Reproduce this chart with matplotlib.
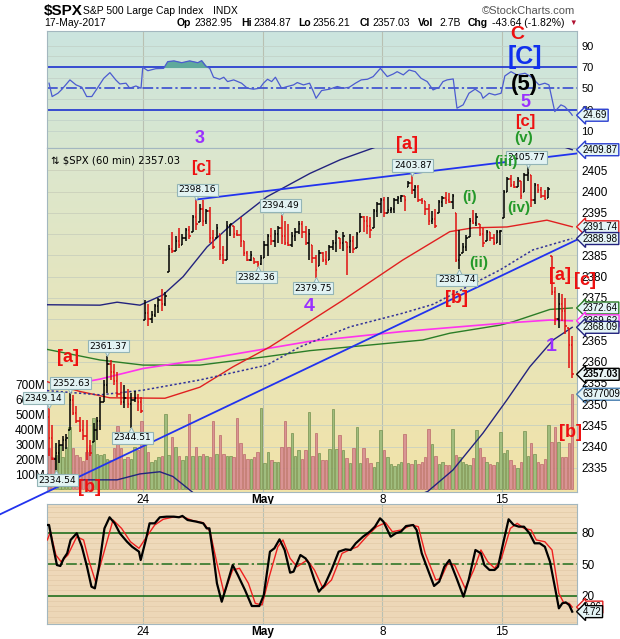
import numpy as np
import matplotlib
matplotlib.use("Agg")
import matplotlib.pyplot as plt
import matplotlib.transforms as mtransforms
from matplotlib.collections import LineCollection

# $SPX 60 min bars, 18-Apr-2017 .. 17-May-2017, 7 bars a session
bar_high = [
    2349.14, 2345.0, 2340.8, 2341.6, 2342.5, 2343.0, 2352.63,
    2352.2, 2349.5, 2347.0, 2346.3, 2346.3, 2341.6, 2345.5,
    2347.0, 2351.8, 2355.7, 2361.37, 2360.4, 2359.5, 2357.5,
    2355.2, 2354.4, 2353.5, 2352.6, 2353.0, 2352.5, 2351.8,
    2374.5, 2373.5, 2372.0, 2373.5, 2375.0, 2377.0, 2376.5,
    2387.5, 2390.6, 2389.5, 2391.4, 2390.0, 2391.5, 2392.0,
    2394.5, 2398.16, 2397.2, 2398.0, 2396.0, 2396.4, 2391.0,
    2392.3, 2390.0, 2387.3, 2393.0, 2392.5, 2392.0, 2391.0,
    2394.0, 2388.5, 2386.0, 2386.0, 2384.5, 2383.6, 2385.0,
    2388.3, 2390.0, 2391.5, 2391.0, 2392.0, 2394.49, 2393.0,
    2392.3, 2390.5, 2391.5, 2393.0, 2393.0, 2392.0, 2391.2,
    2387.5, 2385.1, 2386.3, 2385.8, 2386.0, 2387.5, 2388.6,
    2391.0, 2389.0, 2390.5, 2388.2, 2390.0, 2389.5, 2390.5,
    2395.0, 2394.2, 2394.2, 2394.0, 2396.0, 2397.5, 2398.5,
    2398.8, 2398.8, 2396.5, 2398.5, 2399.0, 2399.2, 2399.0,
    2402.4, 2403.87, 2401.5, 2401.5, 2398.5, 2397.8, 2397.0,
    2395.5, 2396.0, 2398.0, 2399.0, 2400.0, 2399.6, 2399.5,
    2395.0, 2391.0, 2387.9, 2389.8, 2393.8, 2395.8, 2395.0,
    2392.5, 2391.5, 2391.0, 2390.5, 2390.0, 2391.0, 2391.0,
    2400.4, 2403.5, 2403.9, 2402.4, 2403.5, 2402.4, 2404.4,
    2405.77, 2403.9, 2402.0, 2401.7, 2401.0, 2400.4, 2401.0,
    2384.87, 2377.6, 2376.2, 2376.0, 2375.0, 2368.0, 2366.0,
]
bar_low = [
    2337.7, 2336.8, 2334.54, 2336.1, 2339.0, 2339.5, 2343.9,
    2347.5, 2345.5, 2343.5, 2341.6, 2336.9, 2337.7, 2341.0,
    2341.6, 2343.9, 2350.5, 2352.6, 2355.7, 2354.5, 2351.8,
    2349.7, 2349.0, 2349.0, 2344.51, 2350.5, 2348.5, 2347.9,
    2369.8, 2368.5, 2369.0, 2370.5, 2371.5, 2372.0, 2373.0,
    2381.2, 2385.5, 2386.0, 2386.8, 2387.5, 2388.5, 2388.8,
    2390.5, 2391.0, 2392.8, 2392.0, 2392.5, 2388.0, 2386.5,
    2389.0, 2384.0, 2383.0, 2384.0, 2389.5, 2389.0, 2389.5,
    2387.0, 2384.8, 2383.6, 2383.6, 2383.0, 2382.36, 2382.8,
    2384.5, 2384.8, 2387.5, 2387.0, 2388.0, 2387.7, 2387.5,
    2387.3, 2387.0, 2388.5, 2390.0, 2389.0, 2387.5, 2384.0,
    2383.2, 2379.75, 2382.4, 2383.5, 2382.8, 2384.0, 2386.3,
    2385.9, 2386.5, 2386.0, 2380.4, 2385.5, 2385.5, 2386.7,
    2390.6, 2390.6, 2390.0, 2389.0, 2391.5, 2394.0, 2395.0,
    2394.1, 2395.0, 2395.0, 2395.0, 2397.0, 2397.6, 2395.5,
    2401.0, 2399.5, 2398.5, 2397.5, 2397.0, 2394.5, 2392.2,
    2392.5, 2391.5, 2395.0, 2396.5, 2397.0, 2397.3, 2396.0,
    2383.5, 2381.74, 2385.5, 2386.0, 2389.4, 2392.4, 2392.0,
    2389.5, 2387.0, 2388.5, 2388.5, 2387.5, 2388.0, 2387.5,
    2393.8, 2400.0, 2401.0, 2400.8, 2401.0, 2398.2, 2400.0,
    2402.4, 2396.5, 2397.0, 2399.8, 2398.5, 2398.0, 2398.5,
    2375.7, 2368.6, 2368.0, 2369.5, 2366.5, 2358.5, 2356.21,
]
bar_close = [
    2342.0, 2337.0, 2338.5, 2340.5, 2341.5, 2342.0, 2351.0,
    2348.0, 2346.0, 2344.0, 2342.5, 2339.0, 2338.5, 2344.0,
    2346.0, 2350.5, 2354.5, 2359.5, 2357.5, 2355.5, 2352.5,
    2350.5, 2351.5, 2350.0, 2351.0, 2351.5, 2350.5, 2348.5,
    2371.5, 2370.0, 2371.0, 2373.0, 2374.5, 2373.5, 2375.5,
    2386.5, 2386.0, 2388.5, 2387.5, 2389.0, 2391.0, 2389.5,
    2394.0, 2392.5, 2396.0, 2393.0, 2395.5, 2389.0, 2387.0,
    2391.5, 2385.0, 2384.0, 2392.0, 2392.3, 2390.0, 2389.8,
    2388.5, 2385.5, 2384.0, 2385.0, 2383.5, 2383.0, 2384.5,
    2387.5, 2389.5, 2388.5, 2390.0, 2391.5, 2389.5, 2388.0,
    2387.5, 2389.5, 2390.5, 2392.5, 2390.5, 2388.0, 2390.0,
    2384.5, 2381.5, 2385.5, 2384.0, 2383.5, 2387.0, 2388.0,
    2390.5, 2388.0, 2389.5, 2387.0, 2388.5, 2386.5, 2390.0,
    2394.0, 2393.0, 2392.0, 2391.0, 2395.5, 2397.0, 2398.0,
    2395.0, 2395.8, 2396.0, 2398.0, 2398.5, 2399.0, 2398.0,
    2402.0, 2400.5, 2401.0, 2398.0, 2397.8, 2396.0, 2393.0,
    2393.5, 2392.0, 2397.5, 2398.5, 2398.0, 2397.5, 2399.0,
    2384.0, 2385.0, 2387.0, 2389.0, 2393.0, 2392.7, 2394.0,
    2390.0, 2388.0, 2390.5, 2389.0, 2388.0, 2390.5, 2390.8,
    2400.0, 2403.0, 2401.5, 2401.0, 2403.0, 2399.0, 2404.0,
    2404.5, 2398.0, 2401.5, 2400.5, 2399.0, 2398.3, 2400.7,
    2376.5, 2370.0, 2373.5, 2372.0, 2368.5, 2364.0, 2357.03,
]
volume_m = [
    280, 220, 230, 300, 220, 285, 420,
    275, 230, 220, 190, 250, 300, 480,
    235, 230, 235, 205, 195, 275, 425,
    275, 205, 220, 205, 285, 265, 460,
    300, 248, 184, 200, 218, 225, 505,
    232, 350, 285, 225, 195, 225, 505,
    225, 285, 225, 235, 225, 218, 460,
    235, 365, 235, 225, 225, 218, 480,
    310, 235, 205, 205, 218, 248, 545,
    175, 248, 195, 184, 184, 285, 460,
    285, 375, 225, 263, 207, 263, 520,
    225, 375, 247, 199, 199, 273, 540,
    268, 364, 263, 213, 180, 280, 420,
    175, 276, 213, 177, 150, 184, 395,
    263, 218, 169, 157, 169, 184, 373,
    177, 173, 195, 173, 184, 218, 405,
    302, 226, 173, 184, 162, 162, 405,
    232, 218, 184, 169, 166, 213, 399,
    278, 218, 184, 173, 162, 184, 384,
    247, 263, 195, 162, 146, 184, 390,
    225, 310, 235, 184, 173, 207, 435,
    319, 420, 319, 218, 218, 310, 637.7,
]

# overlay lines, (bar index, value)
ma_red = [(-0.6, 2355.3), (9, 2353.0), (17.8, 2351.5), (33.9, 2351.4), (44.1, 2354.0),
          (53.8, 2358.8), (64.6, 2363.5), (73.4, 2368.0), (86, 2374.5), (103.4, 2383.9),
          (117.2, 2390.6), (124, 2391.5), (133.9, 2391.7), (145.6, 2393.3), (153, 2391.74)]
ma_green = [(-0.6, 2362.9), (14.9, 2360.4), (27.5, 2359.2), (44.1, 2359.2), (63.7, 2361.2),
            (76.3, 2362.6), (109.3, 2365.1), (117.2, 2366.7), (131.9, 2368.6), (135.7, 2369.4),
            (146.5, 2372.3), (153, 2372.64)]
ma_magenta = [(2.6, 2354.1), (14.9, 2355.9), (27.5, 2358.4), (44.1, 2360.4), (76.3, 2364.8),
              (103.4, 2367.1), (131.9, 2369.0), (146.5, 2369.8), (153, 2369.62)]
bb_upper = [(-0.6, 2373.4), (14.9, 2373.3), (19.9, 2374.0), (26.6, 2373.3), (33.3, 2375.7),
            (39.2, 2380.0), (46.2, 2387.0), (53.8, 2392.6), (63.7, 2398.8), (76.3, 2404.3),
            (85.1, 2407.5), (95.9, 2410.6), (110, 2414.0), (125, 2417.0), (140, 2414.0),
            (150.3, 2410.6), (153, 2409.87)]
bb_mid = [(-0.6, 2353.2), (14.9, 2352.2), (27.5, 2353.3), (44.1, 2355.7), (63.7, 2359.2),
          (73.4, 2363.5), (88, 2368.2), (103.4, 2371.4), (112.3, 2373.5), (131.9, 2381.6),
          (141.5, 2386.3), (153, 2388.98)]
bb_lower = [(-0.6, 2333.5), (7, 2332.2), (19.9, 2332.2), (26.6, 2333.6), (32.4, 2334.1),
            (36.2, 2333.0), (42.1, 2329.2), (53.8, 2322.5), (76.3, 2322.0), (100, 2326.0),
            (110.8, 2329.5), (118.1, 2334.5), (126.9, 2343.2), (133.9, 2351.0), (140.6, 2358.8),
            (147.4, 2365.1), (153, 2368.09)]
trend_upper = [(43, 2398.16), (154.4, 2409.0)]
trend_lower = [(-14.3, 2324.1), (154.4, 2388.7)]

rsi_pts = [(0, 54.7), (0.9, 42.2), (2.6, 45.3), (3.8, 49.1), (6.1, 57.8), (7.9, 53.1), (9.6, 50.9),
           (11, 42.2), (12.5, 42.2), (14.3, 50.9), (16, 59.3), (17.8, 64.6), (19.5, 57.8),
           (20.7, 54.0), (22.5, 54.7), (23.6, 50.0), (25.4, 52.1), (26.9, 50.0), (27.4, 69.6),
           (28.9, 66.4), (31.2, 68.3), (33.5, 68.6), (34.7, 74.9), (36.5, 75.6), (38.8, 73.9),
           (41.1, 75.6), (43.5, 73.9), (44.6, 75.8), (45.8, 70.8), (47, 68.6), (48.1, 60.3),
           (49.9, 58.4), (51.1, 60.3), (52.2, 56.2), (54, 57.8), (56.3, 54.7), (58, 50.0),
           (59.8, 49.1), (61.6, 50.0), (62.7, 54.7), (63.9, 58.4), (65.1, 56.2), (66.2, 60.3),
           (68, 50.0), (69.7, 51.6), (71.5, 53.1), (72.6, 55.3), (74.4, 53.1), (76.2, 54.7),
           (77.3, 46.9), (78.1, 40.6), (79.7, 47.8), (82, 49.1), (84.3, 51.6), (86.1, 50.0),
           (87.8, 50.9), (89.6, 54.7), (91.3, 57.8), (93.1, 58.4), (94.8, 60.9), (96.9, 68.6),
           (98.9, 60.9), (100.7, 63.4), (101.8, 65.5), (103.6, 62.5), (105.3, 67.1), (107.1, 65.5),
           (108.8, 59.3), (110.6, 56.2), (112.3, 48.4), (114.1, 50.9), (115.2, 56.2), (116.4, 57.8),
           (118.2, 58.7), (119.3, 31.3), (121.1, 34.4), (122.8, 45.3), (124.6, 49.1), (126.3, 45.3),
           (126.9, 40.6), (128.7, 45.3), (130.4, 43.7), (132.2, 45.3), (133.3, 61.5), (135.1, 65.5),
           (136.8, 62.5), (139.2, 64.0), (140.9, 60.9), (143.3, 53.1), (145, 54.7), (146.2, 53.1),
           (147.9, 28.1), (149.7, 34.4), (150.8, 32.8), (152.6, 26.5), (153, 24.69)]

stoch_k = [(-0.5, 87.6), (0, 87.6), (1, 70.1), (2.3, 49.3), (3.3, 48.4), (4.3, 55.7), (5.3, 60.5),
           (6.3, 73.3), (8.1, 79.7), (9.6, 66.8), (11.1, 47.7), (12.4, 28.6), (13.4, 27.0),
           (14.6, 47.7), (16.2, 84.4), (17.7, 95.0), (19.2, 89.2), (20.7, 79.7), (22.8, 71.6),
           (24.3, 66.8), (26.3, 62.1), (26.8, 54.1), (28.3, 73.3), (29.4, 89.2), (30.9, 89.2),
           (32.4, 95.0), (34.4, 95.6), (36.5, 95.6), (38, 95.0), (39, 96.3), (40.5, 92.4),
           (43.1, 90.8), (45.1, 89.2), (46.1, 84.4), (46.9, 84.4), (48.1, 57.3), (49.1, 31.8),
           (50.5, 14.2), (51.7, 27.0), (53.7, 49.3), (55.2, 39.8), (57.3, 25.4), (59.3, 10.1),
           (61.5, 10.1), (62.8, 20.6), (64.6, 62.1), (65.9, 65.3), (67.4, 73.9), (68.9, 63.7),
           (70.5, 42.0), (71.5, 43.0), (73.5, 58.9), (75, 55.7), (76, 50.9), (77.6, 35.0),
           (78.9, 23.8), (80.6, 30.2), (82.6, 44.6), (84.7, 62.1), (86.7, 64.3), (88.2, 63.7),
           (89.7, 70.1), (91.8, 76.4), (93.8, 81.2), (95.3, 86.0), (96.8, 94.0), (97.8, 90.8),
           (99.9, 76.4), (101.4, 79.7), (102.9, 81.2), (104.4, 86.6), (106.5, 87.6), (107.5, 82.8),
           (109, 60.5), (111, 43.0), (112.6, 29.3), (114.1, 33.4), (115.6, 47.7), (117.1, 54.1),
           (119.2, 36.5), (121.2, 19.0), (122.7, 35.0), (124.7, 63.7), (126.3, 60.5), (127.3, 49.3),
           (128.8, 44.6), (130.3, 44.6), (131.3, 47.7), (132.8, 70.1), (134.4, 93.1), (135.9, 87.6),
           (137.4, 86.0), (138.9, 86.0), (140.5, 79.7), (142, 70.1), (143.5, 70.1), (145, 66.8),
           (146.5, 52.5), (148.1, 25.4), (149.1, 7.9), (150.1, 12.7), (151.1, 13.6), (152.1, 11.1),
           (153, 4.72)]
stoch_d = [(-0.5, 73.3), (0.4, 81.2), (2, 58.9), (3.5, 52.5), (5.5, 58.9), (8.1, 76.4), (10.1, 73.3),
           (11.6, 54.1), (13.6, 33.4), (15.7, 57.3), (18.7, 92.4), (21.2, 84.4), (23.8, 71.6),
           (26.3, 65.3), (28.9, 78.1), (30.9, 87.6), (33.4, 93.1), (36, 95.0), (39, 95.6),
           (42, 91.8), (45.1, 89.8), (47.1, 81.2), (49.1, 50.9), (51.2, 22.2), (53.7, 44.6),
           (55.7, 46.2), (58.3, 31.8), (60.3, 12.7), (62.3, 11.1), (64.4, 38.2), (66.9, 66.8),
           (68.4, 73.3), (70.5, 55.7), (72.5, 47.7), (75.5, 54.1), (77.6, 44.6), (80.1, 27.0),
           (82.6, 35.0), (85.7, 60.5), (88.2, 64.3), (90.2, 66.8), (92.8, 76.4), (95.8, 86.0),
           (98.4, 89.8), (100.4, 81.2), (102.9, 82.8), (106, 87.6), (108, 86.0), (110, 60.5),
           (113.1, 35.0), (114.6, 36.5), (116.6, 50.9), (118.6, 49.3), (121.7, 27.0), (124.2, 44.6),
           (126.3, 63.7), (128.3, 52.5), (130.3, 46.2), (132.3, 55.7), (134.9, 84.4), (136.9, 89.2),
           (138.9, 84.4), (141, 82.8), (142.5, 73.3), (145, 71.6), (147.1, 63.7), (149.1, 22.2),
           (150.6, 12.7), (152.1, 12.7), (153, 9.06)]

day_ticks = [27.5, 62.5, 97.5, 132.5]
day_labels = ['24', 'May', '8', '15']

# labelled swing points: (bar, 'hi'/'lo', x shift in points)
swing_marks = [(0, 'hi', -4), (6, 'hi', 1), (17, 'hi', 1), (24, 'lo', 1), (2, 'lo', 1),
               (43, 'hi', 1), (68, 'hi', -1), (61, 'lo', -1), (78, 'lo', -2),
               (106, 'hi', 1), (120, 'lo', -2), (140, 'hi', -1)]

PURPLE, RED, GREEN = '#9a30ff', '#ee1111', '#24992a'
wave_labels = [
    ('3', 44.1, 2412.6, PURPLE, 13), ('[c]', 44.6, 2405.8, RED, 12),
    ('4', 76.0, 2373.1, PURPLE, 14), ('[a]', 104.7, 2411.1, RED, 13),
    ('[b]', 119.3, 2374.8, RED, 13), ('(i)', 123.1, 2398.8, GREEN, 11),
    ('(ii)', 125.7, 2383.2, GREEN, 11), ('(iii)', 133.6, 2407.0, GREEN, 11),
    ('(iv)', 137.4, 2396.2, GREEN, 11), ('(v)', 138.9, 2412.6, GREEN, 11),
    ('[c]', 139.2, 2416.4, RED, 12), ('5', 139.2, 2421.1, PURPLE, 13),
    ('(5)', 138.9, 2425.3, 'black', 16), ('[C]', 139.2, 2431.7, '#1030ee', 18),
    ('C', 136.8, 2437.0, RED, 14), ('[a]', 149.4, 2380.2, RED, 13),
    ('[c]', 156.7, 2379.2, RED, 13), ('1', 146.8, 2363.5, PURPLE, 14),
    ('[b]', 152.6, 2343.4, RED, 13), ('[a]', 5.5, 2360.9, RED, 13),
    ('[b]', 11.7, 2330.5, RED, 13),
]

W, H = 620, 639
XL = (-0.6, 154.4)
fig = plt.figure(figsize=(W / 100, H / 100), dpi=100)
plt.rcParams['font.family'] = ['Liberation Sans', 'DejaVu Sans']


def panel(x0, y0, x1, y1):
    return fig.add_axes([x0 / W, 1 - y1 / H, (x1 - x0) / W, (y1 - y0) / H])


def shade(ax, top, bottom):
    t = np.linspace(0, 1, 200)[:, None, None]
    img = (np.array(top)[None, None, :] * (1 - t) + np.array(bottom)[None, None, :] * t) / 255
    ax.imshow(img, extent=(0, 1, 0, 1), transform=ax.transAxes, aspect='auto', zorder=0)


def frame(ax):
    for s in ax.spines.values():
        s.set_color('#a3b7bf')
        s.set_linewidth(0.8)
    ax.tick_params(length=0, labelsize=8)
    for d in day_ticks:
        ax.axvline(d, color='#b9c0b2', lw=0.8, zorder=1)


def value_box(ax, y, text, edge, face='#e4f4f6', bold=False):
    ax.annotate(text, xy=(1.0, y), xycoords=('axes fraction', 'data'), xytext=(4.2, 0),
                textcoords='offset points', va='center', ha='left', fontsize=7,
                fontweight='bold' if bold else 'normal',
                bbox=dict(boxstyle='larrow,pad=0.1', fc=face, ec=edge, lw=1.0),
                annotation_clip=False, zorder=20)


def xy(pts):
    a = np.array(pts, dtype=float)
    return a[:, 0], a[:, 1]


def ftext(x, y, s, **kw):
    fig.text(x / W, 1 - y / H, s, va='center', **kw)


# ---------------- RSI panel ----------------
ax_r = panel(47, 31, 577, 148)
shade(ax_r, (203, 228, 223), (216, 231, 207))
ax_r.set_xlim(XL)
ax_r.set_ylim(-6, 103.6)
frame(ax_r)
for lv in (10, 20, 40, 60, 80, 90):
    ax_r.axhline(lv, color='#c3d3c9', lw=0.6, zorder=1)
ax_r.axhline(70, color='#2b3fd0', lw=1.3, zorder=2)
ax_r.axhline(30, color='#2b3fd0', lw=1.3, zorder=2)
ax_r.axhline(50, color='#2b3fd0', lw=1.1, ls=(0, (7, 2, 1.5, 2)), zorder=2)
ri, rv = xy(rsi_pts)
ax_r.fill_between(ri, 70, rv, where=rv > 70, interpolate=True, color='#5fa99c', zorder=2)
ax_r.plot(ri, rv, color='#4b5bd0', lw=0.9, zorder=3)
ax_r.set_xticks([])
ax_r.yaxis.tick_right()
ax_r.set_yticks([10, 30, 50, 70, 90])
ax_r.tick_params(axis='y', pad=3)
value_box(ax_r, rv[-1], '24.69', '#2b3fd0')

# ---------------- price panel (volume underneath) ----------------
ax_v = panel(47, 148, 577, 492)
shade(ax_v, (219, 231, 207), (242, 227, 168))
ax_v.set_xlim(XL)
ax_v.set_ylim(-17, 2287)
ax_v.autoscale(False)
frame(ax_v)

idx = np.arange(len(bar_close))
close = np.array(bar_close)
prev = np.concatenate([[2347.0], close[:-1]])
up = close >= prev
ax_v.bar(idx, volume_m, width=0.72, color=np.where(up, '#a0bd7e', '#d99494'),
         edgecolor=np.where(up, '#74914f', '#bb6a6a'), lw=0.5, zorder=2)
ax_v.set_yticks([100, 200, 300, 400, 500, 600, 700])
ax_v.set_yticklabels([f'{v}M' for v in range(100, 800, 100)])
ax_v.tick_params(axis='y', pad=1.5, labelsize=8.5)
ax_v.set_xticks(day_ticks)
ax_v.set_xticklabels(day_labels)
ax_v.tick_params(axis='x', pad=1.5, labelsize=8.5)
ax_v.get_xticklabels()[1].set_fontweight('bold')

ax_p = ax_v.twinx()
ax_p.set_xlim(XL)
ax_p.set_ylim(2329.34, 2410.28)
for s in ax_p.spines.values():
    s.set_visible(False)
ax_p.tick_params(length=0, labelsize=8.5, pad=3)
ax_p.set_yticks(np.arange(2335, 2406, 5))

blend = mtransforms.blended_transform_factory(ax_v.transAxes, ax_p.transData)
for lv in np.arange(2335, 2410, 5):
    ax_v.plot([0, 1], [lv, lv], transform=blend, color='#cdd3bd', lw=0.7, zorder=1)

# OHLC bars
opens = np.clip(prev, bar_low, bar_high)
segs, cols = [], []
for i in idx:
    c = 'black' if up[i] else '#e01010'
    segs += [[(i, bar_low[i]), (i, bar_high[i])],
             [(i - 0.42, opens[i]), (i, opens[i])],
             [(i, close[i]), (i + 0.42, close[i])]]
    cols += [c, c, c]
ax_p.add_collection(LineCollection(segs, colors=cols, linewidths=1.1, zorder=6))

ax_p.plot(*xy(ma_green), color='#2b7d27', lw=1.0, zorder=4)
ax_p.plot(*xy(ma_magenta), color='#ff33ee', lw=1.2, zorder=4)
ax_p.plot(*xy(ma_red), color='#e02020', lw=1.0, zorder=4)
ax_p.plot(*xy(bb_mid), color='#333399', lw=1.1, ls=(0, (1.5, 1.5)), zorder=4)
ax_p.plot(*xy(bb_upper), color='#23237e', lw=1.0, zorder=4)
ax_p.plot(*xy(bb_lower), color='#23237e', lw=1.0, zorder=4)
ax_p.plot(*xy(trend_upper), color='#2233ee', lw=1.3, zorder=5)
ax_p.plot(*xy(trend_lower), color='#2233ee', lw=1.3, zorder=5, clip_on=False)

# swing high / low tags
box = dict(boxstyle='square,pad=0.18', fc='#e2f3f3', ec='#93b5b7', lw=0.8)
for i, kind, dx in swing_marks:
    val = bar_high[i] if kind == 'hi' else bar_low[i]
    dy = 7 if kind == 'hi' else -7.5
    ax_p.annotate(f'{val:.2f}', xy=(i, val), xytext=(dx, dy), textcoords='offset points',
                  ha='center', va='center', fontsize=6.6, family='DejaVu Sans', bbox=box,
                  zorder=12, annotation_clip=False)
    tip = mtransforms.offset_copy(ax_p.transData, fig=fig, x=0,
                                  y=2.6 if kind == 'hi' else -2.6, units='points')
    ax_p.plot([i], [val], marker='v' if kind == 'hi' else '^', ms=5.5, mfc='#e2f3f3',
              mec='#93b5b7', mew=0.7, transform=tip, zorder=11, clip_on=False)

for text, xi, yv, col, fs in wave_labels:
    ax_p.text(xi, yv, text, color=col, fontsize=fs, fontweight='bold', ha='center',
              va='center', zorder=15, clip_on=False)

ax_p.text(0.008, 0.978, '\u21c5 $SPX (60 min) 2357.03', transform=ax_p.transAxes,
          fontsize=7.3, family='DejaVu Sans', va='top', ha='left', zorder=15)

value_box(ax_p, 2409.87, '2409.87', '#2b3fd0')
value_box(ax_p, 2391.74, '2391.74', '#e02020')
value_box(ax_p, 2388.98, '2388.98', '#23237e')
value_box(ax_p, 2372.64, '2372.64', '#2b7d27')
value_box(ax_p, 2369.62, '2369.62', '#ff33ee')
value_box(ax_p, 2368.09, '2368.09', '#23237e')
value_box(ax_p, 2357.03, '2357.03', 'black', face='#eaf6f6', bold=True)
value_box(ax_v, volume_m[-1], '637700928', '#4a7fb0')

# ---------------- slow stochastic panel ----------------
ax_s = panel(47, 504, 577, 624)
shade(ax_s, (240, 219, 188), (237, 215, 183))
ax_s.set_xlim(XL)
ax_s.set_ylim(-7.1, 107.7)
frame(ax_s)
for lv in range(-5, 106, 5):
    ax_s.axhline(lv, color='#e4ccaa', lw=0.6, zorder=1)
ax_s.axhline(80, color='#22701f', lw=1.2, zorder=2)
ax_s.axhline(20, color='#22701f', lw=1.2, zorder=2)
ax_s.axhline(50, color='#22701f', lw=1.1, ls=(0, (7, 2, 1.5, 2)), zorder=2)
ax_s.plot(*xy(stoch_d), color='#ee2020', lw=1.0, zorder=3)
ax_s.plot(*xy(stoch_k), color='black', lw=1.6, zorder=4)
ax_s.yaxis.tick_right()
ax_s.set_yticks([20, 50, 80])
ax_s.tick_params(axis='y', pad=3, labelsize=8.5)
ax_s.set_xticks(day_ticks)
ax_s.set_xticklabels(day_labels)
ax_s.tick_params(axis='x', pad=1.5, labelsize=8.5)
ax_s.get_xticklabels()[1].set_fontweight('bold')
value_box(ax_s, 9.06, '9.06', '#e02020', face='#fff4f0')
value_box(ax_s, 4.72, '4.72', 'black')

# ---------------- header ----------------
ftext(44, 11, '$SPX', fontsize=11, fontweight='bold')
ftext(83, 11, 'S&P 500 Large Cap Index', fontsize=7.5)
ftext(213, 11, 'INDX', fontsize=7.5)
ftext(575, 11, '\u00a9StockCharts.com', fontsize=8, color='#555555', ha='right')
ftext(44, 23, '17-May-2017', fontsize=7.5)
for lab, lx, val, vx in [('Op', 177, '2382.95', 194), ('Hi', 241, '2384.87', 253),
                         ('Lo', 298, '2356.21', 312), ('Cl', 360, '2357.03', 372),
                         ('Vol', 418, '2.7B', 439), ('Chg', 468, '-43.64 (-1.82%)', 492)]:
    ftext(lx, 23, lab, fontsize=7.5, fontweight='bold')
    ftext(vx, 23, val, fontsize=7.5)
ftext(569, 23.5, '\u25bc', fontsize=5.5, color='#b01030')

fig.savefig('out.png', dpi=100)
